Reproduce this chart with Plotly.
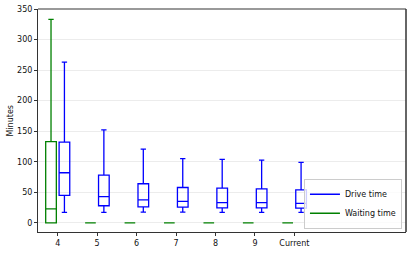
import plotly.graph_objects as go

categories = ["4", "5", "6", "7", "8", "9", "Current"]

# Drive time box stats (minutes)
drive_low = [17, 17, 17.5, 17.5, 17, 17, 17]
drive_q1 = [45, 28, 26, 25.6, 24.5, 24.5, 24]
drive_med = [82, 43, 37.6, 35, 33, 33, 32]
drive_q3 = [132, 78, 64, 57.8, 56.7, 55.6, 54]
drive_high = [263, 152, 120.6, 105, 104, 102.5, 99]

# Waiting time box stats (minutes)
wait_low = [0, 0, 0, 0, 0, 0, 0]
wait_q1 = [0, 0, 0, 0, 0, 0, 0]
wait_med = [23, 0, 0, 0, 0, 0, 0]
wait_q3 = [133, 0, 0, 0, 0, 0, 0]
wait_high = [333, 0, 0, 0, 0, 0, 0]

BLUE = "#0000ff"
GREEN = "#008000"
idx = list(range(len(categories)))
off = 0.17
bw = 0.27

fig = go.Figure()
fig.add_trace(go.Box(
    x=[i - off for i in idx], q1=wait_q1, median=wait_med, q3=wait_q3,
    lowerfence=wait_low, upperfence=wait_high,
    width=bw, whiskerwidth=0.5, line=dict(color=GREEN, width=1.3),
    fillcolor="rgba(0,0,0,0)", showlegend=False, hoverinfo="skip",
    boxpoints=False,
))
fig.add_trace(go.Box(
    x=[i + off for i in idx], q1=drive_q1, median=drive_med, q3=drive_q3,
    lowerfence=drive_low, upperfence=drive_high,
    width=bw, whiskerwidth=0.5, line=dict(color=BLUE, width=1.3),
    fillcolor="rgba(0,0,0,0)", showlegend=False, hoverinfo="skip",
    boxpoints=False,
))
fig.add_trace(go.Scatter(x=[None], y=[None], mode="lines", name="Drive time",
                         line=dict(color=BLUE, width=1.5)))
fig.add_trace(go.Scatter(x=[None], y=[None], mode="lines", name="Waiting time",
                         line=dict(color=GREEN, width=1.5)))

fig.add_shape(type="line", xref="paper", yref="paper", x0=0, x1=1, y0=1, y1=1,
              line=dict(color="#999999", width=2))
fig.add_shape(type="line", xref="paper", yref="paper", x0=1, x1=1, y0=0, y1=1,
              line=dict(color="#333333", width=1.5))

fig.add_annotation(text="Minutes", xref="paper", yref="paper",
                   x=-(38 - 10) / 368, y=0.5, xanchor="center", yanchor="middle",
                   textangle=-90, showarrow=False, font=dict(size=8))

fig.update_layout(
    width=415, height=253,
    margin=dict(l=38, r=9, t=9, b=21, autoexpand=False),
    paper_bgcolor="white", plot_bgcolor="white",
    font=dict(family="DejaVu Sans", size=8, color="#111111"),
    boxmode="overlay",
    showlegend=True,
    legend=dict(x=0.989, y=0.015, xanchor="right", yanchor="bottom",
                bgcolor="rgba(255,255,255,0.8)", bordercolor="#cccccc", borderwidth=1,
                font=dict(size=8), tracegroupgap=0, itemwidth=30),
    xaxis=dict(range=[-0.5, 8.83], tickmode="array", tickvals=idx, ticktext=categories,
               showgrid=False, zeroline=False, showline=True, linecolor="#333333",
               linewidth=1, ticks="outside", ticklen=3, tickcolor="#333333",
               automargin=False),
    yaxis=dict(range=[-15, 350], tickvals=[0, 50, 100, 150, 200, 250, 300, 350],
               showgrid=True, gridcolor="#ececec", gridwidth=1, zeroline=False,
               showline=True, linecolor="#333333", linewidth=1,
               ticks="outside", ticklen=3, tickcolor="#333333",
               automargin=False),
)

fig.write_html("out.html", config={"displayModeBar": False},
               post_script="document.body.style.margin='0';")
